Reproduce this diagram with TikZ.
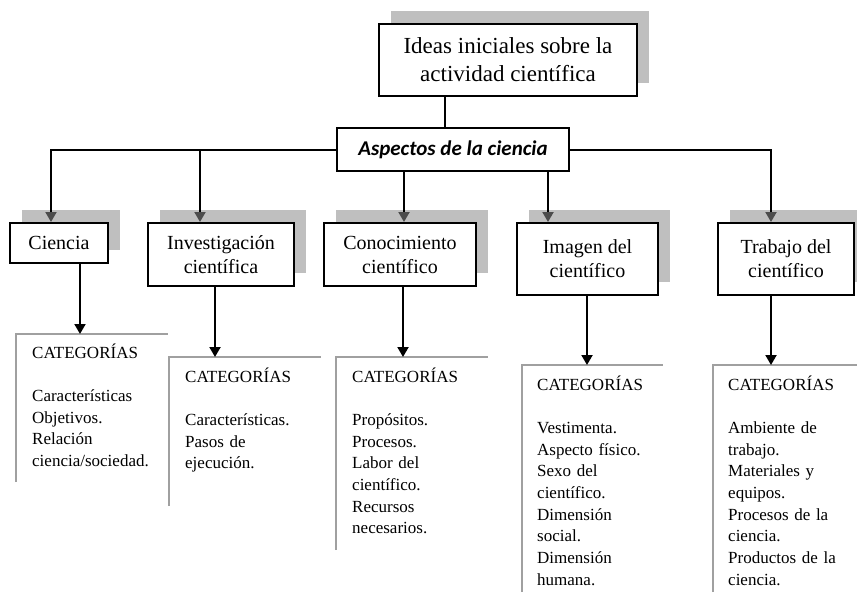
\documentclass[tikz,border=0pt]{standalone}
\usepackage{fontspec}
\setmainfont{Liberation Serif}
\newfontfamily\calibri{Carlito}
\usetikzlibrary{arrows.meta,shadows}
\definecolor{shadowgray}{RGB}{191,191,191}
\definecolor{catgray}{RGB}{160,160,160}

\begin{document}
\begin{tikzpicture}[x=1pt,y=-1pt,
  frame/.style={draw,line width=2pt,fill=white,align=center,inner sep=2pt},
  box/.style={frame,general shadow={draw=none,fill=shadowgray,shadow xshift=12pt,shadow yshift=13pt}},
  level/.style={box,anchor=north west,font=\fontsize{20}{24}\selectfont},
  link/.style={line width=2pt},
  arrow/.style={link,-{Triangle[length=10pt,width=11pt]}},
  grayarrow/.style={link,-{Triangle[length=10pt,width=11pt,color=black!70]}},
  catline/.style={draw=catgray,line width=1.5pt},
  cat/.style={anchor=base west,inner sep=0pt,text width=140pt,align=left,font=\fontsize{17}{21.7}\selectfont}]
  \useasboundingbox (0,0) rectangle (857,592);

  \node[box,font=\fontsize{23}{28}\selectfont,minimum width=258pt,minimum height=72pt] (ideas) at (508,60) {Ideas iniciales sobre la\\actividad científica};
  \node[frame,font=\calibri\bfseries\itshape\fontsize{21}{24}\selectfont,minimum width=232pt,minimum height=43pt] (aspects) at (453,149.5) {Aspectos de la ciencia};

  \node[level,minimum width=98pt,minimum height=40pt]  (ciencia)  at (9,222)   {Ciencia};
  \node[level,minimum width=146pt,minimum height=63pt] (investig) at (147,222) {Investigación\\científica};
  \node[level,minimum width=152pt,minimum height=63pt] (conoc)    at (323,222) {Conocimiento\\científico};
  \node[level,minimum width=141pt,minimum height=72pt] (imagen)   at (516,222) {Imagen del\\científico};
  \node[level,minimum width=136pt,minimum height=72pt] (trabajo)  at (717,222) {Trabajo del\\científico};

  \coordinate (trunk) at (445,150);
  \coordinate (jc) at (51,150);
  \coordinate (ji) at (200,150);
  \coordinate (jk) at (404,150);
  \coordinate (jm) at (548,150);
  \coordinate (jt) at (771,150);

  \draw[link] (ideas.south -| trunk) -- (aspects.north -| trunk);
  \draw[grayarrow] (aspects.west) -| (ciencia.north -| jc);
  \draw[grayarrow] (ji) -- (investig.north -| ji);
  \draw[grayarrow] (aspects.south -| jk) -- (conoc.north -| jk);
  \draw[grayarrow] (aspects.south -| jm) -- (imagen.north -| jm);
  \draw[grayarrow] (aspects.east) -| (trabajo.north -| jt);

  \draw[catline] (16,482) |- (168,334);
  \draw[catline] (169,506) |- (321,357);
  \draw[catline] (336,550) |- (488,357);
  \draw[catline] (522,592) |- (663,365);
  \draw[catline] (713,592) |- (857,365);

  \coordinate (a1) at (80,334);
  \coordinate (a2) at (215,357);
  \coordinate (a3) at (403,357);
  \coordinate (a4) at (587,365);
  \coordinate (a5) at (771,365);

  \draw[arrow] (ciencia.south -| a1)  -- (a1);
  \draw[arrow] (investig.south -| a2) -- (a2);
  \draw[arrow] (conoc.south -| a3)    -- (a3);
  \draw[arrow] (imagen.south -| a4)   -- (a4);
  \draw[arrow] (trabajo.south -| a5)  -- (a5);

  \node[cat] (cat1) at (32,358)  {CATEGORÍAS\\[21.7pt]Características\\Objetivos.\\Relación\\ciencia/sociedad.};
  \node[cat] (cat2) at (185,382) {CATEGORÍAS\\[21.7pt]Características.\\Pasos de\\ejecución.};
  \node[cat] (cat3) at (352,382) {CATEGORÍAS\\[21.7pt]Propósitos.\\Procesos.\\Labor del\\científico.\\Recursos\\necesarios.};
  \node[cat] (cat4) at (537,390) {CATEGORÍAS\\[21.7pt]Vestimenta.\\Aspecto físico.\\Sexo del\\científico.\\Dimensión\\social.\\Dimensión\\humana.};
  \node[cat] (cat5) at (728,390) {CATEGORÍAS\\[21.7pt]Ambiente de\\trabajo.\\Materiales y\\equipos.\\Procesos de la\\ciencia.\\Productos de la\\ciencia.};
\end{tikzpicture}
\end{document}
